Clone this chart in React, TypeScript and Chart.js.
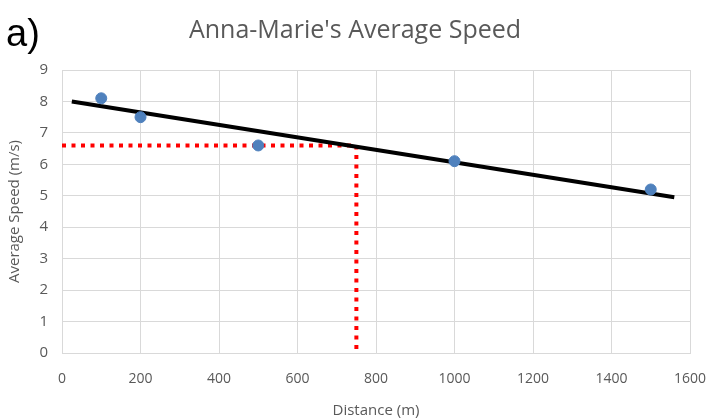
import React, { useEffect, useRef } from "react";
import { Chart, registerables } from "chart.js";
Chart.register(...registerables);

const distances = [100, 200, 500, 1000, 1500];
const speeds = [8.1, 7.5, 6.6, 6.1, 5.2];
const trendX = [25, 1560];
const trendY = [8.0, 4.95];
const guideX = [0, 750, 750];
const guideY = [6.6, 6.6, 0];

const FONT = '"Open Sans", sans-serif';

const overlay = {
  id: "overlay",
  afterDraw(chart: any) {
    const ctx = chart.ctx;
    ctx.save();
    ctx.fillStyle = "#000";
    ctx.font = '38px "Liberation Sans", Arial, sans-serif';
    ctx.textBaseline = "alphabetic";
    ctx.textAlign = "left";
    ctx.fillText("a)", 6, 46);
    ctx.fillStyle = "#595959";
    ctx.font = "25px " + FONT;
    ctx.textAlign = "center";
    ctx.fillText("Anna-Marie's Average Speed", 355, 38);
    ctx.restore();
  },
};

export default function App() {
  const ref = useRef<HTMLCanvasElement>(null);
  useEffect(() => {
    const chart = new Chart(ref.current!, {
      type: "scatter",
      data: {
        datasets: [
          {
            label: "points",
            data: distances.map((x, i) => ({ x, y: speeds[i] })),
            backgroundColor: "#4f81bd",
            borderColor: "#4f81bd",
            pointRadius: 5.5,
            order: 0,
          },
          {
            label: "trend",
            data: trendX.map((x, i) => ({ x, y: trendY[i] })),
            showLine: true,
            borderColor: "#000",
            borderWidth: 4,
            pointRadius: 0,
            order: 1,
          },
          {
            label: "guide",
            data: guideX.map((x, i) => ({ x, y: guideY[i] })),
            showLine: true,
            borderColor: "#ff0000",
            borderWidth: 4,
            borderDash: [4, 5.5],
            borderCapStyle: "butt",
            pointRadius: 0,
            order: 2,
          },
        ],
      },
      options: {
        animation: false,
        responsive: false,
        layout: { padding: { left: 6, top: 70, right: 22, bottom: 0 } },
        plugins: { legend: { display: false }, tooltip: { enabled: false } },
        scales: {
          x: {
            type: "linear",
            min: 0,
            max: 1600,
            ticks: { stepSize: 200, color: "#595959", font: { family: FONT, size: 14 }, padding: 18, callback: (v: any) => String(v) },
            grid: { color: "#d9d9d9", drawTicks: false },
            border: { color: "#d9d9d9" },
            title: { display: true, text: "Distance (m)", color: "#595959", font: { family: FONT, size: 15 }, padding: { top: 4, bottom: 0 } },
            afterFit: (s: any) => { s.height = 67; s.paddingLeft = 0; s.paddingRight = 0; },
          },
          y: {
            min: 0,
            max: 9,
            ticks: { stepSize: 1, color: "#595959", font: { family: FONT, size: 15 }, padding: 14 },
            grid: { color: "#d9d9d9", drawTicks: false },
            border: { color: "#d9d9d9" },
            title: { display: true, text: "Average Speed (m/s)", color: "#595959", font: { family: FONT, size: 15 }, padding: { top: 0, bottom: 2 } },
            afterFit: (s: any) => { s.width = 56; s.paddingTop = 0; s.paddingBottom = 0; },
          },
        },
      },
      plugins: [overlay],
    } as any);
    return () => chart.destroy();
  }, []);
  return (
    <div style={{ position: "fixed", left: 0, top: 0, width: 712, height: 420, background: "#fff" }}>
      <canvas ref={ref} width={712} height={420} />
    </div>
  );
}
